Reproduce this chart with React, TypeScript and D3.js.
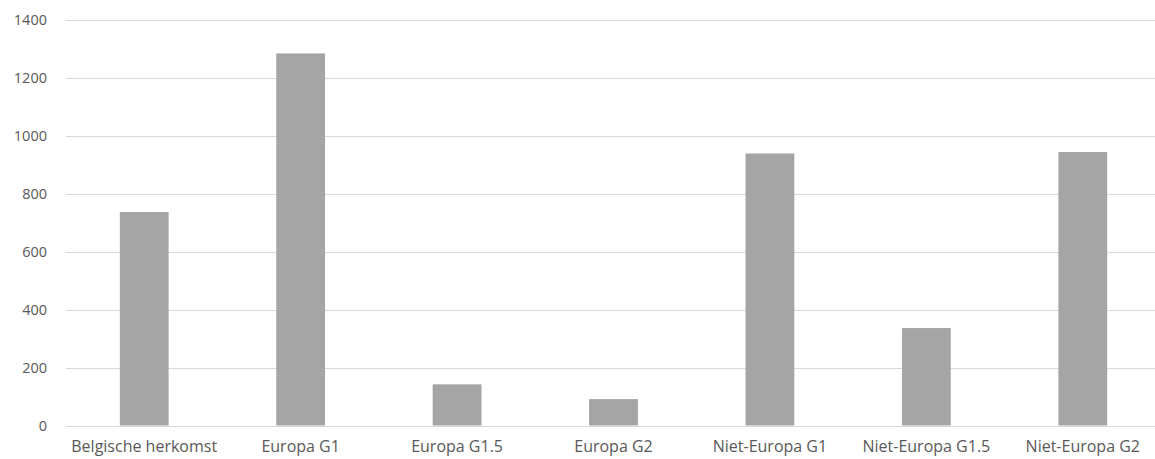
import React from "react";
import * as d3 from "d3";

const categories = [
  "Belgische herkomst",
  "Europa G1",
  "Europa G1.5",
  "Europa G2",
  "Niet-Europa G1",
  "Niet-Europa G1.5",
  "Niet-Europa G2",
];
const values = [736, 1283, 142, 91, 938, 336, 943];
const yTicks = [0, 200, 400, 600, 800, 1000, 1200, 1400];

const W = 1155;
const H = 459;

export default function App() {
  const x = d3.scaleBand<string>().domain(categories).range([66, 1161]).padding(0);
  const y = d3.scaleLinear().domain([0, 1400]).range([425.5, 19.5]);
  const barW = x.bandwidth() * 0.312;
  const font = "'Open Sans', sans-serif";

  return (
    <svg
      width={W}
      height={H}
      style={{ position: "absolute", left: 0, top: 0, background: "#fff" }}
      fontFamily={font}
    >
      {yTicks.map((t) => (
        <g key={t}>
          <line x1={66} x2={W} y1={Math.round(y(t)) + 0.5} y2={Math.round(y(t)) + 0.5} stroke="#d9d9d9" strokeWidth={1} />
          <text x={47} y={y(t)} dy="0.35em" textAnchor="end" fontSize={14.5} fill="#595959">
            {t}
          </text>
        </g>
      ))}
      {categories.map((c, i) => {
        const cx = (x(c) as number) + x.bandwidth() / 2;
        return (
          <g key={c}>
            <rect x={cx - barW / 2} y={y(values[i])} width={barW} height={y(0) - y(values[i])} fill="#a5a5a5" />
            <text x={cx} y={452} textAnchor="middle" fontSize={16} fill="#595959">
              {c}
            </text>
          </g>
        );
      })}
    </svg>
  );
}
